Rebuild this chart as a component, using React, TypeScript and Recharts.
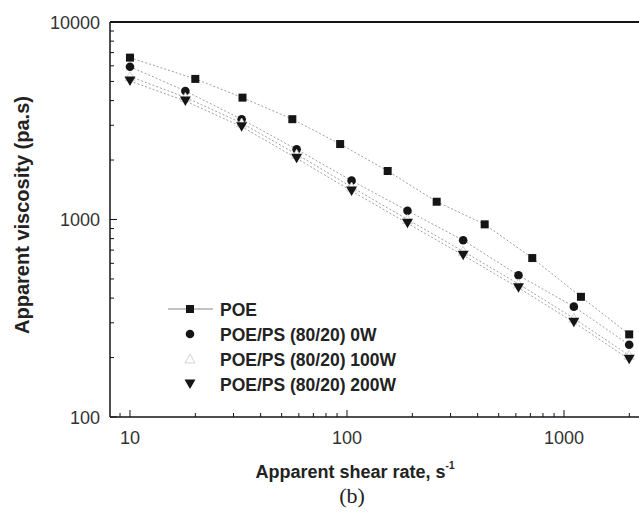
import React from "react";
import { ScatterChart, Scatter, XAxis, YAxis, ReferenceLine } from "recharts";

// shear rate (1/s) vs apparent viscosity (Pa.s)
const POE_RATE = [10, 20, 33, 56, 93, 154, 259, 431, 714, 1197, 1997];
const POE_VISC = [6600, 5150, 4140, 3220, 2410, 1760, 1230, 945, 638, 406, 262];

const BLEND_RATE = [10, 18, 32.7, 58.6, 105, 190, 343, 617, 1110, 1997];
const W0_VISC = [5940, 4475, 3216, 2266, 1573, 1108, 785, 522, 362, 232];
const W100_VISC = [5300, 4150, 3080, 2140, 1460, 1000, 690, 472, 316, 205];
const W200_VISC = [5025, 3981, 2951, 2041, 1394, 957, 659, 451, 302, 196];

const X_TICKS = [9, 10, 20, 30, 40, 50, 60, 70, 80, 90, 100, 200, 300, 400, 500, 600, 700, 800, 900, 1000, 2000];
const X_LABELS = [10, 100, 1000];
const Y_TICKS = [100, 200, 300, 400, 500, 600, 700, 800, 900, 1000, 2000, 3000, 4000, 5000, 6000, 7000, 8000, 9000, 10000];
const Y_LABELS = [100, 1000, 10000];

const SANS = "'Liberation Sans', Arial, sans-serif";
const INK = "#151515";
const LINE = "#a0a0a0";

const toPts = (xs: number[], ys: number[]) => xs.map((x, i) => ({ x, y: ys[i] }));

const poe = toPts(POE_RATE, POE_VISC);
const w0 = toPts(BLEND_RATE, W0_VISC);
const w100 = toPts(BLEND_RATE, W100_VISC);
const w200 = toPts(BLEND_RATE, W200_VISC);

const Square = (p: any) => <rect x={p.cx - 4} y={p.cy - 4} width={8} height={8} fill={INK} />;
const Dot = (p: any) => <circle cx={p.cx} cy={p.cy} r={4.3} fill={INK} />;
const UpTri = (p: any) => (
  <path
    d={`M${p.cx},${p.cy - 5} L${p.cx + 5},${p.cy + 4} L${p.cx - 5},${p.cy + 4} Z`}
    fill="#fff"
    stroke="#c8c8c8"
    strokeWidth={0.8}
  />
);
const DownTri = (p: any) => (
  <path d={`M${p.cx - 5.5},${p.cy - 4.5} L${p.cx + 5.5},${p.cy - 4.5} L${p.cx},${p.cy + 5} Z`} fill={INK} />
);

function XTick(props: any) {
  const { x, y, payload } = props;
  const major = X_LABELS.includes(payload.value);
  return (
    <g>
      <line x1={x} x2={x} y1={y} y2={y - (major ? 7 : 4)} stroke={INK} strokeWidth={1} />
      {major && (
        <text x={x} y={y + 27} textAnchor="middle" fontSize={18} fontFamily={SANS} fill="#333">
          {payload.value}
        </text>
      )}
    </g>
  );
}

function YTick(props: any) {
  const { x, y, payload } = props;
  const major = Y_LABELS.includes(payload.value);
  return (
    <g>
      <line x1={x} x2={x + (major ? 7 : 4)} y1={y} y2={y} stroke={INK} strokeWidth={1} />
      {major && (
        <text x={x - 10} y={y + 6.5} textAnchor="end" fontSize={18} fontFamily={SANS} fill="#333">
          {payload.value}
        </text>
      )}
    </g>
  );
}

const LEGEND = [
  { label: "POE", shape: Square, line: true },
  { label: "POE/PS (80/20) 0W", shape: Dot, line: false },
  { label: "POE/PS (80/20) 100W", shape: UpTri, line: false },
  { label: "POE/PS (80/20) 200W", shape: DownTri, line: false },
];
const LEGEND_Y = [309, 334, 359, 384];

export default function App() {
  const lineStyle = { stroke: LINE, strokeWidth: 1, strokeDasharray: "2 2" };
  return (
    <div style={{ position: "absolute", left: 0, top: 0, width: 639, height: 516, background: "#fff" }}>
      <ScatterChart width={639} height={516} margin={{ top: 22, right: 0, bottom: 0, left: 0 }}>
        <XAxis
          type="number"
          dataKey="x"
          scale="log"
          domain={[8.09, 2216]}
          allowDataOverflow
          ticks={X_TICKS}
          interval={0}
          height={99}
          tickSize={0}
          tickMargin={0}
          tick={<XTick />}
          axisLine={{ stroke: INK, strokeWidth: 1.5 }}
        />
        <YAxis
          type="number"
          dataKey="y"
          scale="log"
          domain={[100, 10000]}
          allowDataOverflow
          ticks={Y_TICKS}
          interval={0}
          width={110}
          tickSize={0}
          tickMargin={0}
          tick={<YTick />}
          axisLine={{ stroke: INK, strokeWidth: 1.5 }}
        />
        <ReferenceLine y={10000} stroke={INK} strokeWidth={2} />
        <Scatter data={poe} shape={Square} line={lineStyle} lineType="joint" isAnimationActive={false} />
        <Scatter data={w0} shape={Dot} line={lineStyle} lineType="joint" isAnimationActive={false} />
        <Scatter data={w100} shape={UpTri} line={lineStyle} lineType="joint" isAnimationActive={false} />
        <Scatter data={w200} shape={DownTri} line={lineStyle} lineType="joint" isAnimationActive={false} />
      </ScatterChart>

      <svg
        width={639}
        height={516}
        style={{ position: "absolute", left: 0, top: 0, pointerEvents: "none" }}
      >
        {/* axis titles */}
        <text
          transform="translate(29,215) rotate(-90)"
          textAnchor="middle"
          fontSize={20}
          fontWeight="bold"
          fontFamily={SANS}
          fill="#222"
        >
          Apparent viscosity (pa.s)
        </text>
        <text x={355} y={478} textAnchor="middle" fontSize={18} fontWeight="bold" fontFamily={SANS} fill="#222">
          Apparent shear rate, s
          <tspan fontSize={10} dy={-9}>-1</tspan>
        </text>
        <text x={352} y={503} textAnchor="middle" fontSize={22} fontFamily="'Liberation Serif', serif" fill="#222">
          (b)
        </text>

        {/* legend */}
        {LEGEND.map((l, i) => {
          const S = l.shape;
          const cy = LEGEND_Y[i];
          return (
            <g key={l.label}>
              {l.line && <line x1={168} x2={213} y1={cy} y2={cy} stroke="#888" strokeWidth={1} />}
              <S cx={190} cy={cy} />
              <text x={220} y={cy + 6.5} fontSize={17.5} fontWeight="bold" fontFamily={SANS} fill="#222">
                {l.label}
              </text>
            </g>
          );
        })}
      </svg>
    </div>
  );
}
